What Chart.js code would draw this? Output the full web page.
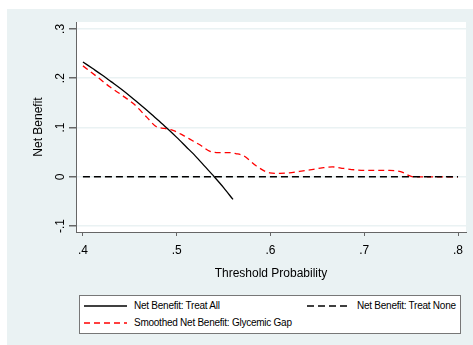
<!DOCTYPE html>
<html>
<head>
<meta charset="utf-8">
<script src="https://cdn.jsdelivr.net/npm/chart.js@4.4.0/dist/chart.umd.min.js"></script>
<style>
  body { margin: 0; background: #fff; font-family: "Liberation Sans", Arial, sans-serif; }
  #wrap { position: relative; width: 473px; height: 345px; }
  #legend {
    position: absolute; left: 79px; top: 295px; width: 380px; height: 37px;
    background: #fff; border: 1px solid #777; font-size: 10px; color: #000;
    letter-spacing: -0.25px;
  }
  .item { position: absolute; display: flex; align-items: center; white-space: nowrap; height: 12px; line-height: 12px; }
  .item svg { margin-right: 7px; }
</style>
</head>
<body>
<div id="wrap">
  <canvas id="chart" width="473" height="345"></canvas>
  <div id="legend">
    <div class="item" style="left:4px; top:4px;">
      <svg width="43" height="6"><line x1="0" y1="3" x2="43" y2="3" stroke="#000" stroke-width="1.3"/></svg>
      Net Benefit: Treat All
    </div>
    <div class="item" style="left:227px; top:4px;">
      <svg width="43" height="6"><line x1="0" y1="3" x2="43" y2="3" stroke="#000" stroke-width="1.5" stroke-dasharray="7,4"/></svg>
      Net Benefit: Treat None
    </div>
    <div class="item" style="left:4px; top:21px;">
      <svg width="43" height="6"><line x1="0" y1="3" x2="43" y2="3" stroke="#f00" stroke-width="1.5" stroke-dasharray="6,4"/></svg>
      Smoothed Net Benefit: Glycemic Gap
    </div>
  </div>
</div>
<script>
// Net benefit: treat all
const treatAllX = [0.40, 0.41, 0.42, 0.43, 0.44, 0.45, 0.46, 0.47, 0.48, 0.49, 0.50, 0.51, 0.52, 0.53, 0.54, 0.55, 0.56];
const treatAllY = [0.233, 0.220, 0.207, 0.193, 0.179, 0.164, 0.148, 0.132, 0.115, 0.098, 0.080, 0.061, 0.042, 0.021, 0.000, -0.022, -0.046];

// Net benefit: treat none
const treatNoneX = [0.40, 0.80];
const treatNoneY = [0, 0];

// Smoothed net benefit: glycemic gap
const smoothX = [0.400, 0.415, 0.429, 0.442, 0.454, 0.468, 0.478, 0.487, 0.496, 0.506, 0.517, 0.527, 0.535, 0.545, 0.556, 0.563, 0.571, 0.585, 0.599, 0.610, 0.620, 0.631, 0.642, 0.655, 0.666, 0.678, 0.691, 0.709, 0.727, 0.735, 0.741, 0.746, 0.752, 0.770, 0.800];
const smoothY = [0.225, 0.203, 0.182, 0.165, 0.148, 0.121, 0.102, 0.098, 0.094, 0.085, 0.073, 0.062, 0.052, 0.049, 0.049, 0.047, 0.043, 0.022, 0.008, 0.007, 0.008, 0.011, 0.014, 0.018, 0.020, 0.017, 0.014, 0.013, 0.013, 0.012, 0.009, 0.004, 0.000, 0.000, 0.000];

// Axis ticks
const xTicks = [0.4, 0.5, 0.6, 0.7, 0.8];
const yTicks = [-0.1, 0, 0.1, 0.2, 0.3];

const bgColor = '#eaf2f3';
const fontFamily = '"Liberation Sans", Arial, sans-serif';

function fmt(v) {
    const r = Math.round(v * 10) / 10;
    if (r === 0) return '0';
    return r.toFixed(1).replace('0.', '.');
}

function pts(xs, ys) {
    return xs.map((x, i) => ({ x: x, y: ys[i] }));
}

// Stata-like backgrounds
const backdrop = {
    id: 'backdrop',
    beforeDraw(chart) {
        const ctx = chart.ctx;
        const a = chart.chartArea;
        ctx.save();
        ctx.fillStyle = '#fff';
        ctx.fillRect(0, 0, chart.width, chart.height);
        ctx.fillStyle = bgColor;
        ctx.fillRect(7, 9, chart.width - 7, chart.height - 9);
        ctx.fillStyle = '#fff';
        ctx.fillRect(a.left, a.top, a.right - a.left, a.bottom - a.top);
        ctx.restore();
    },
    afterDraw(chart) {
        // rotated y tick labels
        const ctx = chart.ctx;
        const y = chart.scales.y;
        ctx.save();
        ctx.fillStyle = '#000';
        ctx.font = '12px ' + fontFamily;
        ctx.textAlign = 'center';
        ctx.textBaseline = 'middle';
        yTicks.forEach(v => {
            ctx.save();
            ctx.translate(61, y.getPixelForValue(v));
            ctx.rotate(-Math.PI / 2);
            ctx.fillText(fmt(v), 0, 0);
            ctx.restore();
        });
        ctx.restore();
    }
};

new Chart(document.getElementById('chart'), {
    type: 'line',
    data: {
        datasets: [{
            label: 'Net Benefit: Treat All',
            data: pts(treatAllX, treatAllY),
            borderColor: '#000',
            borderWidth: 1.3,
            pointRadius: 0,
            tension: 0.3
        }, {
            label: 'Net Benefit: Treat None',
            data: pts(treatNoneX, treatNoneY),
            borderColor: '#000',
            borderWidth: 1.5,
            borderDash: [7, 4],
            pointRadius: 0
        }, {
            label: 'Smoothed Net Benefit: Glycemic Gap',
            data: pts(smoothX, smoothY),
            borderColor: '#f00',
            borderWidth: 1.3,
            borderDash: [6, 4],
            pointRadius: 0,
            cubicInterpolationMode: 'monotone'
        }]
    },
    options: {
        responsive: false,
        animation: false,
        devicePixelRatio: 1,
        layout: { padding: { left: 7, top: 22, right: 7, bottom: 60 } },
        plugins: {
            legend: { display: false },
            tooltip: { enabled: false }
        },
        scales: {
            x: {
                type: 'linear',
                min: 0.3926,
                max: 0.8085,
                afterBuildTicks: s => { s.ticks = xTicks.map(v => ({ value: v })); },
                afterFit: s => { s.height = 53; },
                ticks: {
                    callback: v => fmt(v),
                    color: '#000',
                    font: { family: fontFamily, size: 12 },
                    padding: 7,
                    maxRotation: 0
                },
                grid: { drawOnChartArea: false, tickLength: 4, tickColor: '#666' },
                border: { color: '#666', width: 1 },
                title: {
                    display: true,
                    text: 'Threshold Probability',
                    color: '#000',
                    font: { family: fontFamily, size: 12 },
                    padding: { top: 8 }
                }
            },
            y: {
                min: -0.112,
                max: 0.314,
                afterBuildTicks: s => { s.ticks = yTicks.map(v => ({ value: v })); },
                afterFit: s => { s.width = 69; },
                ticks: {
                    color: 'rgba(0,0,0,0)',
                    font: { family: fontFamily, size: 12 }
                },
                grid: { color: bgColor, lineWidth: 1.5, tickLength: 7, tickColor: '#666' },
                border: { color: '#666', width: 1 },
                title: {
                    display: true,
                    text: 'Net Benefit',
                    color: '#000',
                    font: { family: fontFamily, size: 12 },
                    padding: { top: 24 }
                }
            }
        }
    },
    plugins: [backdrop]
});
</script>
</body>
</html>
